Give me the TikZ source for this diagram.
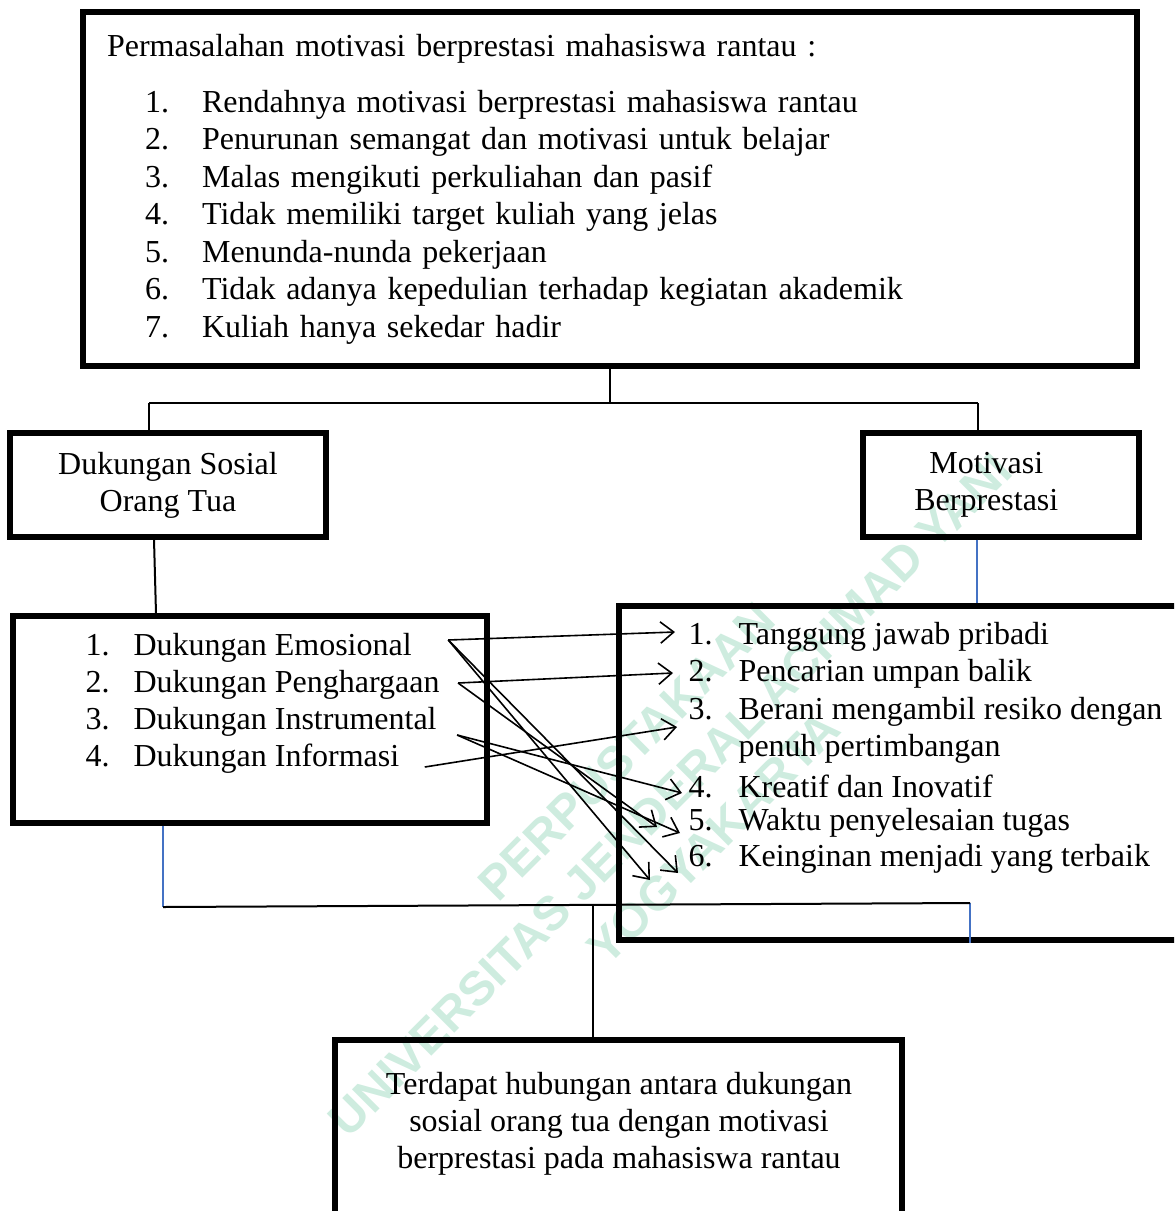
\documentclass[tikz,border=0pt]{standalone}
\usepackage{fontspec}
\setmainfont{Liberation Serif}
\newfontfamily\wmfont{Liberation Sans}
\usetikzlibrary{arrows.meta,calc}
\definecolor{linkblue}{RGB}{68,114,196}
\definecolor{wmgreen}{RGB}{206,236,223}
\newcommand{\px}{0.375pt}
\newcommand{\pitem}[2]{\hspace*{14.25pt}\makebox[21.4pt][l]{#1.}#2}
\newcommand{\nr}[1]{\makebox[18pt][l]{#1.}}
\newcommand{\mr}[1]{\makebox[18.75pt][l]{#1.}}

\begin{document}
\begin{tikzpicture}[x=0.375pt, y=-0.375pt,
    every node/.style={font=\fontsize{12}{13.9}\selectfont},
    bigbox/.style={draw, line width=1.9pt, rectangle, inner sep=0pt},
    listitem/.style={anchor=west, inner sep=0pt, align=left},
    link/.style={line width=0.75pt},
    bluelink/.style={draw=linkblue, line width=0.55pt},
    arr/.style={line width=0.6pt, -{Straight Barb[length=5pt,width=8pt]}}]

    \useasboundingbox (0,0) rectangle (1174,1211);
    \clip (0,0) rectangle (1174,1211);

    % watermark
    \node[rotate=45, text=wmgreen, align=center,
        font=\wmfont\bfseries\fontsize{18}{23}\selectfont] (wm) at (670,795)
        {PERPUSTAKAAN\\UNIVERSITAS JENDERAL ACHMAD YANI\\YOGYAKARTA};

    % kotak
    \node[bigbox, minimum width=1054*\px, minimum height=354*\px,
        text width=1006*\px, align=left,
        font=\fontsize{12}{14.05}\selectfont] (masalah) at (610,189)
        {Permasalahan motivasi berprestasi mahasiswa rantau :\\[7.1pt]
        \pitem{1}{Rendahnya motivasi berprestasi mahasiswa rantau}\\
        \pitem{2}{Penurunan semangat dan motivasi untuk belajar}\\
        \pitem{3}{Malas mengikuti perkuliahan dan pasif}\\
        \pitem{4}{Tidak memiliki target kuliah yang jelas}\\
        \pitem{5}{Menunda-nunda pekerjaan}\\
        \pitem{6}{Tidak adanya kepedulian terhadap kegiatan akademik}\\
        \pitem{7}{Kuliah hanya sekedar hadir}};

    \node[bigbox, minimum width=316*\px, minimum height=104*\px, align=center]
        (dsot) at (168,485) {Dukungan Sosial\\Orang Tua};
    \node[bigbox, minimum width=276*\px, minimum height=104*\px, align=center]
        (mb) at (1001,485) {Motivasi\hspace*{11pt}\\Berprestasi\hspace*{11pt}};

    \node[bigbox, minimum width=474*\px, minimum height=207*\px] (dimensi) at (250,719.5) {};
    \node[bigbox, minimum width=571*\px, minimum height=334*\px] (indikator) at (904.5,773) {};
    \node[bigbox, minimum width=567*\px, minimum height=200*\px] (hasil) at (618.5,1140) {};

    % isi kotak
    \node[listitem] (e1) at (85,648) {\nr{1}Dukungan Emosional};
    \node[listitem] (e2) at (85,685) {\nr{2}Dukungan Penghargaan};
    \node[listitem] (e3) at (85,722) {\nr{3}Dukungan Instrumental};
    \node[listitem] (e4) at (85,759) {\nr{4}Dukungan Informasi};

    \node[listitem] (m1) at (688,637) {\mr{1}Tanggung jawab pribadi};
    \node[listitem] (m2) at (688,674) {\mr{2}Pencarian umpan balik};
    \node[listitem] (m3) at (688,730) {\mr{3}Berani mengambil resiko dengan\\
        \hspace*{18.75pt}penuh pertimbangan};
    \node[listitem] (m4) at (688,786) {\mr{4}Kreatif dan Inovatif};
    \node[listitem] (m5) at (688,823) {\mr{5}Waktu penyelesaian tugas};
    \node[listitem] (m6) at (688,859) {\mr{6}Keinginan menjadi yang terbaik};

    \node[align=center] (hasiltxt) at (619,1124)
        {Terdapat hubungan antara dukungan\\sosial orang tua dengan motivasi\\berprestasi pada mahasiswa rantau};

    % garis
    \coordinate (jm) at (610,403);
    \coordinate (jl) at (149,403);
    \coordinate (jr) at (978,403);
    \draw[link] (masalah.south) -- (jm);
    \draw[link] (jl) -- (jr);
    \draw[link] (jl) -- (jl |- dsot.north);
    \draw[link] (jr) -- (jr |- mb.north);
    \draw[link] ($(dsot.south)+(-14,0)$) -- ($(dimensi.north)+(-94,0)$);
    \coordinate (mbfoot) at ($(mb.south)+(-24,0)$);
    \draw[bluelink] (mbfoot) -- (mbfoot |- indikator.north);

    \coordinate (bl) at (163,907);
    \coordinate (br) at (970,903);
    \coordinate (bm) at (593,905);
    \draw[bluelink] (bl |- dimensi.south) -- (bl);
    \draw[bluelink] (br |- indikator.south) -- (br);
    \draw[link] (bl) -- (br);
    \draw[link] (bm) -- (bm |- hasil.north);

    % panah
    \draw[arr] ($(e1.east)+(36,-8)$) -- ($(m1.west)+(-13,-5)$);
    \draw[arr] ($(e1.east)+(36,-8)$) -- ($(m6.west)+(-38,21)$);
    \draw[arr] ($(e1.east)+(36,-8)$) -- ($(m6.west)+(-10,14)$);
    \draw[arr] ($(e2.east)+(18,-2)$) -- ($(m2.west)+(-15,-1)$);
    \draw[arr] ($(e2.east)+(18,-2)$) -- ($(m5.west)+(-31,4)$);
    \draw[arr] ($(e3.east)+(20,13)$) -- ($(m4.west)+(-6,7)$);
    \draw[arr] ($(e3.east)+(20,13)$) -- ($(m5.west)+(-8,10)$);
    \draw[arr] ($(e4.east)+(25,8)$) -- ($(m3.west)+(-11,-3)$);

\end{tikzpicture}
\end{document}
